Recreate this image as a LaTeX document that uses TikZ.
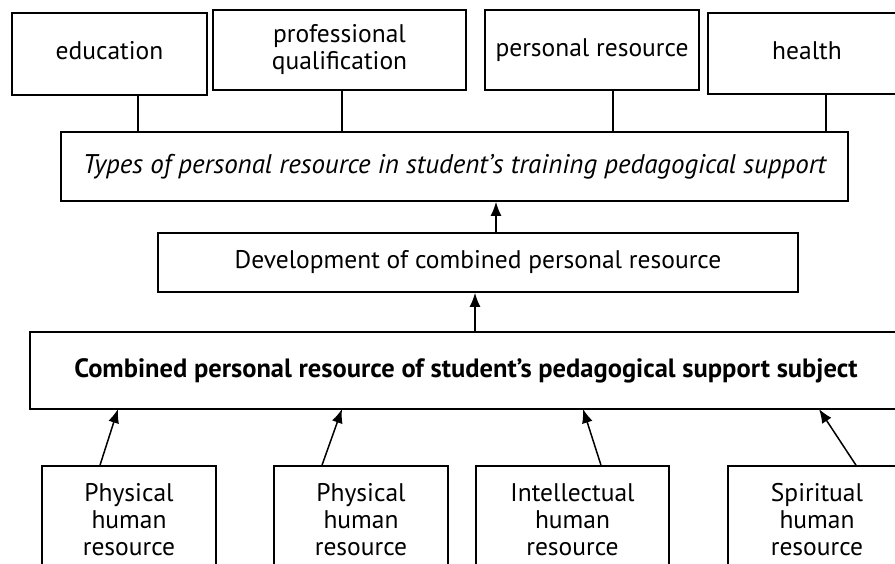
\documentclass[tikz,border=0pt]{standalone}
\usepackage{fontspec}
\setmainfont{PT Sans}
\usetikzlibrary{arrows.meta}

\tikzset{
  box/.style={draw, line width=1.6pt, rectangle, align=center, inner sep=0pt,
              font=\fontsize{25.5}{27}\selectfont},
  link/.style={line width=1.5pt},
  up/.style={line width=1.5pt, -{Latex[length=14pt,width=11pt]}},
}

\begin{document}
\begin{tikzpicture}[x=1pt, y=-1pt]
\useasboundingbox (0,0) rectangle (895,564);
\clip (0,0) rectangle (895,564);

% kinds of resource
\node[box, minimum width=195, minimum height=82] (edu)    at (109.5,54)  {\raisebox{7pt}{education}}; %
\node[box, minimum width=253, minimum height=80] (prof)   at (339.5,50)  {professional\\qualification}; %
\node[box, minimum width=214, minimum height=80] (pers)   at (592,50)    {\raisebox{3pt}{personal resource}}; %
\node[box, minimum width=198, minimum height=81] (health) at (807,53.5)  {\raisebox{6pt}{health}}; %

% types
\node[box, minimum width=787, minimum height=69] (types) at (454.5,166.5)
  {\fontsize{27}{30}\selectfont\itshape Types of personal resource in student’s training pedagogical support}; %
\draw[link] ([xshift=28.5]edu.south)  -- ([xshift=28.5]edu.south |- types.north);
\draw[link] ([xshift=2.5]prof.south)  -- ([xshift=2.5]prof.south |- types.north);
\draw[link] ([xshift=21]pers.south)   -- ([xshift=21]pers.south |- types.north);
\draw[link] ([xshift=19]health.south) -- ([xshift=19]health.south |- types.north);

% development
\node[box, minimum width=640, minimum height=59] (dev) at (478,262.5)
  {Development of combined personal resource}; %
\draw[up] ([xshift=18]dev.north) -- ([xshift=18]dev.north |- types.south);

% combined resource
\node[box, minimum width=872, minimum height=77] (comb) at (466,370.5)
  {\fontsize{26.5}{30}\selectfont\bfseries Combined personal resource of student’s pedagogical support subject}; %
\draw[up] ([xshift=9]comb.north) -- ([xshift=9]comb.north |- dev.south);

% human resources
\node[box, minimum width=174, minimum height=108] (phys1) at (129,520)   {Physical\\human\\resource}; %
\node[box, minimum width=174, minimum height=108] (phys2) at (361,520)   {Physical\\human\\resource}; %
\node[box, minimum width=193, minimum height=108] (intel) at (572.5,520) {Intellectual\\human\\resource}; %
\node[box, minimum width=178, minimum height=108] (spir)  at (817,520)   {Spiritual\\human\\resource}; %
\coordinate (c1) at (118,409);
\coordinate (c2) at (342,409);
\coordinate (c3) at (583,409);
\coordinate (c4) at (819,409);
\draw[up] ([xshift=-29]phys1.north) -- (c1);
\draw[up] ([xshift=-39]phys2.north) -- (c2);
\draw[up] ([xshift=28.5]intel.north) -- (c3);
\draw[up] ([xshift=39]spir.north)   -- (c4);
\end{tikzpicture}
\end{document}
